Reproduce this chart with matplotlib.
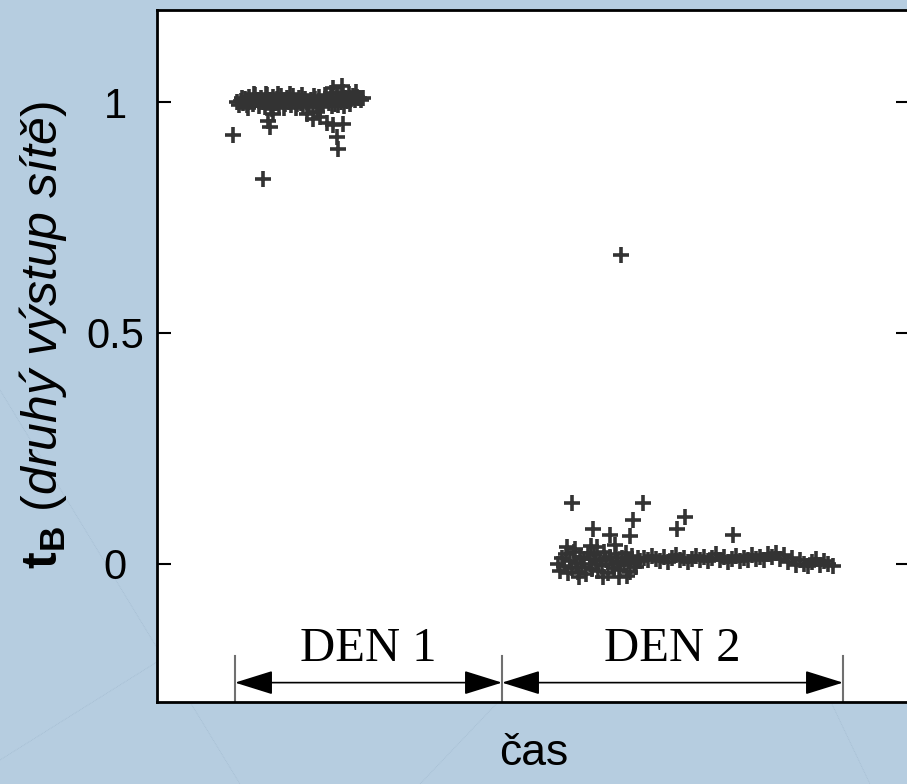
import matplotlib
matplotlib.use("Agg")
import matplotlib.pyplot as plt
from matplotlib.lines import Line2D

plt.rcParams['font.family'] = ['Liberation Sans', 'DejaVu Sans']
plt.rcParams['mathtext.fontset'] = 'custom'
plt.rcParams['mathtext.rm'] = 'Liberation Sans'
plt.rcParams['mathtext.bf'] = 'Liberation Sans:bold'
plt.rcParams['mathtext.it'] = 'Liberation Sans:italic'

# DATA #
# day 1: network output close to 1
t_den1 = [80, 82, 84, 86, 88, 90, 92, 94, 96, 98, 100, 102, 104, 106, 108, 110,
          112, 114, 116, 118, 120, 122, 124, 126, 128, 130, 132, 134, 136, 138,
          140, 142, 144, 146, 148, 150, 152, 154, 156, 158, 160, 162, 164, 166,
          168, 170, 172, 174, 176, 178, 180, 182, 184, 186, 188, 190, 192, 194,
          196, 198, 200, 202, 204, 206,
          85, 91, 97, 103, 109, 115, 121, 127, 133, 139, 145, 151, 157, 163,
          169, 175, 181, 187, 193, 199, 185, 176,
          76, 106, 111, 113, 116, 156, 163, 170, 176, 186, 180, 181, 150, 160]
tb_den1 = [1.000, 0.995, 1.003, 0.998, 1.008, 0.994, 1.012, 1.002, 0.996, 1.015,
           1.005, 0.992, 1.010, 1.000, 0.990, 1.016, 1.004, 0.993, 1.011, 0.999,
           1.007, 0.991, 1.014, 1.002, 0.996, 1.009, 1.001, 0.994, 1.013, 1.003,
           0.997, 1.010, 0.999, 0.992, 1.006, 1.000, 0.995, 1.004, 0.993, 1.008,
           0.998, 1.012, 1.001, 0.996, 1.015, 1.004, 0.999, 1.020, 1.008, 0.997,
           1.018, 1.006, 1.000, 1.022, 1.010, 1.003, 1.019, 1.008, 1.014, 1.005,
           1.012, 1.009, 1.004, 1.010,
           1.010, 0.988, 1.018, 1.000, 1.018, 0.986, 1.017, 0.987, 1.018, 0.988,
           1.016, 0.989, 1.014, 0.990, 1.012, 0.992, 0.995, 0.991, 0.996, 1.022,
           1.035, 1.030,
           0.930, 0.833, 0.959, 0.946, 0.975, 0.963, 0.967, 0.955, 0.950, 0.952,
           0.924, 0.898, 0.975, 0.978]

# day 2: network output close to 0
t_den2 = [401, 403, 405, 407, 409, 411, 413, 415, 417, 419, 421, 423, 425, 427,
          429, 431, 433, 435, 437, 439, 441, 443, 445, 447, 449, 451, 453, 455,
          457, 459, 461, 463, 465, 467, 469, 471, 473, 475, 477, 479, 481, 483,
          487, 491, 495, 499, 503, 507, 511, 515, 519, 523, 527, 531, 535, 539,
          543, 547, 551, 555, 559, 563, 567, 571, 575, 579, 583, 587, 591, 595,
          599, 603,
          607, 611, 615, 619, 623, 627, 631, 635, 639, 643, 647, 651, 655, 659,
          663, 667, 671, 676,
          415, 486, 476, 528, 520, 576, 464, 436, 453, 473,
          410, 422, 434, 446, 458, 470, 418, 440, 462]
tb_den2 = [0.000, -0.015, 0.012, -0.005, 0.020, -0.020, 0.005, -0.010, 0.025,
           0.002, -0.018, 0.015, -0.008, 0.010, -0.022, 0.022, 0.000, -0.012,
           0.018, 0.005, -0.016, 0.010, -0.004, 0.026, 0.008, -0.020, 0.014,
           0.000, -0.010, 0.020, 0.004, -0.014, 0.012, -0.002, 0.024, 0.006,
           -0.018, 0.016, 0.002, -0.008, 0.012, 0.005,
           0.012, 0.008, 0.016, 0.010, 0.006, 0.014, 0.004, 0.012, 0.018, 0.008,
           0.012, 0.004, 0.010, 0.016, 0.008, 0.014, 0.006, 0.012, 0.020, 0.008,
           0.014, 0.004, 0.010, 0.016, 0.006, 0.012, 0.008, 0.018, 0.010, 0.014,
           0.008, 0.020, 0.014, 0.024, 0.010, 0.018, 0.004, 0.012, -0.002, 0.008,
           0.000, -0.006, 0.004, 0.010, -0.004, 0.006, 0.000, -0.005,
           0.132, 0.132, 0.095, 0.100, 0.074, 0.063, 0.668, 0.074, 0.063, 0.059,
           0.035, -0.028, 0.038, -0.030, 0.040, -0.026, 0.032, 0.036, -0.028]

# day boundaries on the time axis
day_edges = [78, 345, 686]
day_labels = ['DEN 1', 'DEN 2']

yticks = [0, 0.5, 1]
ytick_labels = ['0', '0.5', '1']

# PLOTTING #
W, H = 907, 784
fig = plt.figure(figsize=(W / 100, H / 100), dpi=100)
fig.patch.set_facecolor('#b6cde0')

# faint background texture lines (behind the axes)
for (x0, y0, x1, y1) in [(0, 390, 240, 784), (0, 760, 160, 660), (160, 660, 500, 420),
                         (500, 700, 420, 784), (830, 700, 870, 784)]:
    fig.add_artist(Line2D([x0 / W, x1 / W], [1 - y0 / H, 1 - y1 / H], zorder=-5,
                          color='#9ab3c9', lw=0.6, ls=(0, (1, 1)), alpha=0.6))

ax = fig.add_axes([157 / W, 1 - 702 / H, (910 - 157) / W, (702 - 10) / H])
ax.set_zorder(1)
ax.set_facecolor('white')

ax.plot(t_den1, tb_den1, ls='none', marker='+', ms=12, mew=2.6, color='#333333')
ax.plot(t_den2, tb_den2, ls='none', marker='+', ms=12, mew=2.6, color='#333333')

ax.set_xlim(0, 753)
ax.set_ylim(-0.3, 1.2)
ax.set_xticks([])
ax.set_yticks(yticks)
ax.set_yticklabels(ytick_labels, fontsize=30, ha='center')
ax.tick_params(axis='y', direction='in', length=10, width=1.5, right=True, pad=30)
for sp in ax.spines.values():
    sp.set_linewidth(2)

# day arrows
arrow_y = -0.258
for i in range(len(day_labels)):
    ax.annotate('', xy=(day_edges[i + 1], arrow_y), xytext=(day_edges[i], arrow_y),
                arrowprops=dict(arrowstyle='<|-|>,head_length=2.4,head_width=0.75',
                                mutation_scale=10, color='black', lw=1.2,
                                shrinkA=0, shrinkB=0))
    ax.text((day_edges[i] + day_edges[i + 1]) / 2, -0.232, day_labels[i],
            fontsize=35, family='Liberation Serif', ha='center', va='bottom')
for x in day_edges:
    ax.plot([x, x], [-0.3, -0.2], color='#707070', lw=1.5)

ax.set_xlabel('čas', fontsize=32, labelpad=22)
ax.set_ylabel(r'$\mathbf{t_B}$ $\mathit{(druhý\ výstup\ sítě)}$', fontsize=36)
ax.yaxis.set_label_coords(-88 / (910 - 157), 0.53)

fig.savefig('out.png', dpi=100, facecolor=fig.get_facecolor())
